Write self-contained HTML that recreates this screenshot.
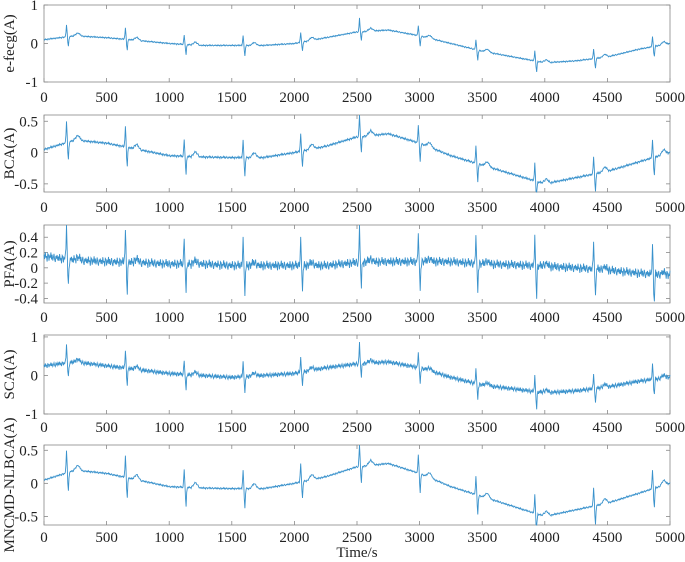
<!DOCTYPE html>
<html><head><meta charset="utf-8"><style>
body{margin:0;background:#fff}
svg{display:block;font-family:"Liberation Serif",serif}
</style></head><body>
<svg id="c" width="685" height="562"></svg>
<script>
const spikeTimes=[180,650,1120,1590,2050,2520,2990,3450,3920,4390,4860];
const xTicks=[0,500,1000,1500,2000,2500,3000,3500,4000,4500,5000];
const baseEfecg=[0.1,0.2,0.15,0.08,0.0,-0.05,-0.05,-0.05,0.0,0.15,0.3,0.35,0.2,0.0,-0.2,-0.35,-0.5,-0.45,-0.35,-0.15,0.0];
const baseBCA=[0.05,0.2,0.15,0.05,-0.05,-0.07,-0.08,-0.08,0,0.1,0.25,0.3,0.15,-0.05,-0.2,-0.35,-0.5,-0.4,-0.3,-0.15,0];
const basePFA=[0.15,0.1,0.08,0.07,0.05,0.05,0.03,0.03,0.03,0.03,0.07,0.08,0.08,0.08,0.05,0.04,0.02,0,-0.03,-0.07,-0.1];
const baseSCA=[0.25,0.35,0.25,0.15,0.05,0,-0.05,0,0.05,0.2,0.3,0.35,0.2,-0.05,-0.25,-0.35,-0.45,-0.4,-0.3,-0.15,-0.05];
const baseMN=[0.05,0.2,0.15,0.05,-0.05,-0.07,-0.08,-0.08,0,0.1,0.25,0.3,0.15,-0.05,-0.2,-0.35,-0.5,-0.4,-0.3,-0.15,0];
const spikeUp=[0.3,0.3,0.25,0.25,0.25,0.35,0.25,0.25,0.25,0.25,0.25];
const spikeDown=[0.3,0.3,0.3,0.3,0.25,0.25,0.3,0.3,0.3,0.3,0.3];
const noiseSeq=[0.3,-0.5,0.8,-0.2,0.1,-0.9,0.6,0.4,-0.7,0.2,-0.1,0.9,-0.4,0.5,-0.6,0.0,0.7,-0.3,-0.8,0.35,-0.15,0.55,-0.45];
const panels=[
 {name:"e-fecg",label:"e-fecg(A)",top:5,bot:82,ymin:-1,ymax:1,yt:[1,0,-1],ytl:["1","0","-1"],base:baseEfecg,sc:1,noise:0.02,lx:97},
 {name:"bca",label:"BCA(A)",top:115,bot:192,ymin:-0.63,ymax:0.6,yt:[0.5,0,-0.5],ytl:["0.5","0","-0.5"],base:baseBCA,sc:1.1,noise:0.02,lx:207},
 {name:"pfa",label:"PFA(A)",top:225,bot:303,ymin:-0.46,ymax:0.56,yt:[0.4,0.2,0,-0.2,-0.4],ytl:["0.4","0.2","0","-0.2","-0.4"],base:basePFA,sc:1.4,noise:0.07,lx:317},
 {name:"sca",label:"SCA(A)",top:335,bot:414,ymin:-1,ymax:1.05,yt:[1,0,-1],ytl:["1","0","-1"],base:baseSCA,sc:1.5,noise:0.07,lx:427},
 {name:"mncmd",label:"MNCMD-NLBCA(A)",top:445,bot:525,ymin:-0.63,ymax:0.58,yt:[0.5,0,-0.5],ytl:["0.5","0","-0.5"],base:baseMN,sc:1.1,noise:0.015,lx:537}
];
const X0=44,X1=670;
const svg=document.getElementById('c');
const NS="http://www.w3.org/2000/svg";
function mk(t,a,p){const e=document.createElementNS(NS,t);for(const k in a)e.setAttribute(k,a[k]);(p||svg).appendChild(e);return e;}
const xs=v=>X0+(X1-X0)*v/5000;
function tri(d,w){return Math.max(0,1-Math.abs(d)/w);}
panels.forEach((P,pi)=>{
 const g=mk('g',{});
 
 
 const ys=v=>P.bot-(v-P.ymin)/(P.ymax-P.ymin)*(P.bot-P.top);
 const fr=mk('rect',{x:X0,y:P.top,width:X1-X0,height:P.bot-P.top,fill:'#fff',stroke:'#888','stroke-width':0.8},g);
 
 
 xTicks.forEach(t=>{
  const x=xs(t);
  mk('line',{x1:x,x2:x,y1:P.bot,y2:P.bot-4,stroke:'#888','stroke-width':0.8},g);
  mk('line',{x1:x,x2:x,y1:P.top,y2:P.top+4,stroke:'#888','stroke-width':0.8},g);
  const tx=mk('text',{x:x,y:P.lx+5,'font-size':15,'text-anchor':'middle',fill:'#222'},g);
  tx.textContent=t;
  
  
 });
 P.yt.forEach((v,i)=>{
  const y=ys(v);
  mk('line',{x1:X0,x2:X0+4,y1:y,y2:y,stroke:'#888','stroke-width':0.8},g);
  mk('line',{x1:X1,x2:X1-4,y1:y,y2:y,stroke:'#888','stroke-width':0.8},g);
  const tx=mk('text',{x:X0-6,y:y+5,'font-size':15,'text-anchor':'end',fill:'#222'},g);
  tx.textContent=P.ytl[i];
  
  
 });
 const cy=(P.top+P.bot)/2;
 const yl=mk('text',{x:14,y:cy,'font-size':15,'text-anchor':'middle',fill:'#222',transform:`rotate(-90 14 ${cy})`},g);
 yl.textContent=P.label;
 
 
 let pts=[];
 for(let t=0;t<=5000;t+=5){
  const k=Math.min(19,Math.floor(t/250)),f=(t-k*250)/250;
  let v=P.base[k]*(1-f)+P.base[k+1]*f;
  spikeTimes.forEach((s,i)=>{
   v+=P.sc*spikeUp[i]*tri(t-s,8)-P.sc*spikeDown[i]*tri(t-s-14,8);
   v+=0.08*tri(t-s-90,35)*(P.name==='pfa'?0.5:1);
  });
  v+=P.noise*noiseSeq[(t/5)%noiseSeq.length];
  v=Math.max(P.ymin,Math.min(P.ymax,v));
  pts.push(xs(t).toFixed(1)+','+ys(v).toFixed(1));
 }
 const ln=mk('polyline',{points:pts.join(' '),fill:'none',stroke:'#3a92cc','stroke-width':0.9},g);
 
 
});
const xt=mk('text',{x:357,y:557,'font-size':15,'text-anchor':'middle',fill:'#222'});
xt.textContent='Time/s';


</script>
</body></html>
